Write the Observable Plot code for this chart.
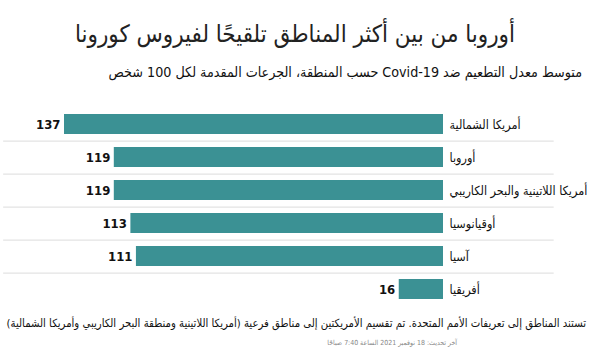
<!DOCTYPE html>
<html lang="ar">
<head>
<meta charset="utf-8">
<script src="https://cdn.jsdelivr.net/npm/d3@7"></script>
<script src="https://cdn.jsdelivr.net/npm/@observablehq/plot@0.6"></script>
<style>
  html, body { margin: 0; padding: 0; background: #fff; width: 600px; height: 350px; overflow: hidden; }
  body { position: relative; font-family: "DejaVu Sans Condensed", "DejaVu Sans", sans-serif; color: #111; }
  .t { position: absolute; white-space: nowrap; direction: rtl; }
  #title { left: 295px; transform: translateX(-50%); top: 20px; font-size: 25px; font-weight: 400; color: #222; }
  #subtitle { right: 18px; top: 64px; font-size: 14.5px; }
  #chart { position: absolute; left: 0; top: 100px; }
  #caption { right: 14px; top: 317px; font-size: 12.5px; }
  #footer { right: 143px; top: 339px; font-size: 8.5px; color: #888; }
</style>
</head>
<body>
<div id="title" class="t">أوروبا من بين أكثر المناطق تلقيحًا لفيروس كورونا</div>
<div id="subtitle" class="t">متوسط معدل التطعيم ضد Covid-19 حسب المنطقة، الجرعات المقدمة لكل 100 شخص</div>
<div id="chart"></div>
<div id="caption" class="t">تستند المناطق إلى تعريفات الأمم المتحدة. تم تقسيم الأمريكتين إلى مناطق فرعية (أمريكا اللاتينية ومنطقة البحر الكاريبي وأمريكا الشمالية)</div>
<div id="footer" class="t">آخر تحديث: 18 نوفمبر 2021 الساعة 7:40 صباحًا</div>
<script>
const regions = ["أمريكا الشمالية", "أوروبا", "أمريكا اللاتينية والبحر الكاريبي", "أوقيانوسيا", "آسيا", "أفريقيا"];
const doses = [137, 119, 119, 113, 111, 16];

const data = regions.map((r, i) => ({region: r, value: doses[i]}));
const separators = regions.slice(0, -1);

// fit the HTML text blocks to the widths they take in the reference
function fit(id, targetWidth) {
  const el = document.getElementById(id);
  const fs = parseFloat(getComputedStyle(el).fontSize);
  const w = el.getBoundingClientRect().width;
  if (w > 0) el.style.fontSize = (fs * targetWidth / w) + "px";
}
fit("title", 440);
fit("subtitle", 474);
fit("caption", 580);
fit("footer", 130);

const step = 33.2;
const chart = Plot.plot({
  width: 600,
  height: 210,
  marginTop: 6.4,
  marginBottom: 4.4,
  marginLeft: 64,
  marginRight: 157,
  x: {domain: [0, 137], reverse: true, axis: null},
  y: {domain: regions, paddingInner: 0.4, paddingOuter: 0.2, axis: null},
  style: {fontFamily: "DejaVu Sans Condensed, DejaVu Sans, sans-serif", background: "transparent", overflow: "visible"},
  marks: [
    Plot.ruleY(separators, {y: d => d, x1: -40, x2: 159, dy: step / 2, stroke: "#dcdcdc", strokeWidth: 1}),
    Plot.barX(data, {x: "value", y: "region", fill: "#3b9194"}),
    Plot.text(data, {x: 0, y: "region", text: "region", textAnchor: "start", dx: 6, fontSize: 12.5, fill: "#111"}),
    Plot.text(data, {x: "value", y: "region", text: d => String(d.value), textAnchor: "end", dx: -4,
      fontSize: 13, fontWeight: "bold", fontFamily: "Liberation Sans Narrow, DejaVu Sans Condensed, sans-serif", fill: "#111"})
  ]
});
document.getElementById("chart").appendChild(chart);
</script>
</body>
</html>
